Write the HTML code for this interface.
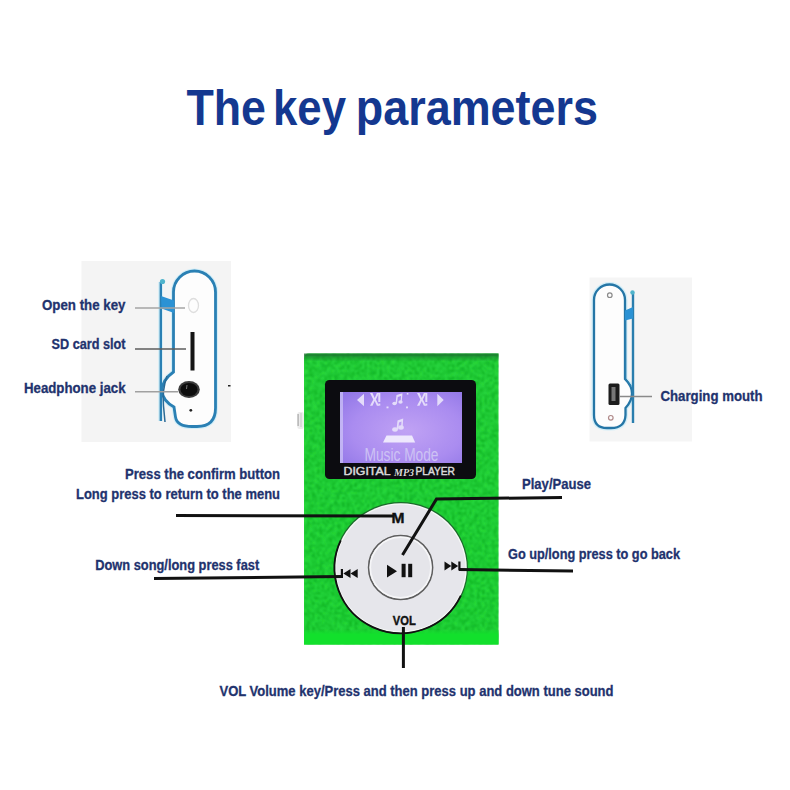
<!DOCTYPE html>
<html><head><meta charset="utf-8">
<style>
html,body{margin:0;padding:0;background:#fff;width:790px;height:790px;overflow:hidden}
svg{display:block}
text{font-family:"Liberation Sans",sans-serif;font-weight:bold}
.lbl{fill:#1f336e;font-size:14.5px;stroke:#1f336e;stroke-width:0.3px}
</style></head><body>
<svg width="790" height="790" viewBox="0 0 790 790">
<defs>
<radialGradient id="lcd" cx="0.55" cy="0.55" r="0.75">
<stop offset="0" stop-color="#c0a2f4"/>
<stop offset="0.6" stop-color="#aa8cf0"/>
<stop offset="1" stop-color="#9076e6"/>
</radialGradient>
<linearGradient id="grn" x1="0" y1="0" x2="0" y2="1">
<stop offset="0" stop-color="#2ede42"/>
<stop offset="1" stop-color="#28e03e"/>
</linearGradient>
<linearGradient id="topsh" x1="0" y1="0" x2="0" y2="1">
<stop offset="0" stop-color="#1a6a30" stop-opacity="0.5"/>
<stop offset="1" stop-color="#1a6a30" stop-opacity="0"/>
</linearGradient>
<filter id="tex" x="0" y="0" width="100%" height="100%">
<feTurbulence type="fractalNoise" baseFrequency="0.4" numOctaves="2" seed="3" result="n"/>
<feColorMatrix in="n" type="matrix" values="0 0 0 0 0  0 0 0 0 0  0 0 0 0 0  -3 0 0 0 1.9" result="a"/>
<feComposite in="SourceGraphic" in2="a" operator="in" result="c"/>
<feGaussianBlur in="c" stdDeviation="0.9"/>
</filter>
<linearGradient id="band" x1="0" y1="0" x2="0" y2="1">
<stop offset="0" stop-color="#14de2e" stop-opacity="0.3"/>
<stop offset="0.3" stop-color="#12e02c"/>
<stop offset="1" stop-color="#12e02c"/>
</linearGradient>
</defs>
<rect width="790" height="790" fill="#fff"/>
<!-- title -->
<g font-size="48" fill="#143890" transform="translate(0 125.2) scale(1 1.045) translate(0 -125.2)">
<text x="186.5" y="125.2" textLength="79.5" lengthAdjust="spacingAndGlyphs">The</text>
<text x="273" y="125.2" textLength="73" lengthAdjust="spacingAndGlyphs">key</text>
<text x="355.8" y="125.2" textLength="242.2" lengthAdjust="spacingAndGlyphs">parameters</text>
</g>

<!-- left panel -->
<rect x="81.5" y="261" width="149.5" height="181" fill="#f4f4f4"/>
<g id="leftdev">
<path d="M173.5 292 A21 21 0 0 1 215.5 292 L215.5 408 Q215.5 426.5 197 426.5 L192 426.5 Q177 426.5 175.5 417 L174 407 Q163 401 161.8 391 Q162 380 173.5 372 Z" fill="#fdfdfd" stroke="#d2eef8" stroke-width="5"/>
<line x1="160.5" y1="282" x2="160.5" y2="421" stroke="#d8eef6" stroke-width="5"/>
<path d="M173.5 292 A21 21 0 0 1 215.5 292 L215.5 408 Q215.5 426.5 197 426.5 L192 426.5 Q177 426.5 175.5 417 L174 407 Q163 401 161.8 391 Q162 380 173.5 372 Z" fill="#fdfdfd" stroke="#2a80b4" stroke-width="2.8"/>
<line x1="160.8" y1="282" x2="160.8" y2="421" stroke="#2a80b4" stroke-width="2.4"/>
<path d="M167 376 Q162 390 163.5 406 L165 422" fill="none" stroke="#2a6a96" stroke-width="1.5"/>
<circle cx="162.5" cy="281.5" r="2.6" fill="#4fb4cc"/>
<path d="M161 296 L174 300.5 L174 313 L161.5 308.5 Z" fill="#2b92d4"/>
<ellipse cx="193.5" cy="305.5" rx="5" ry="7" fill="none" stroke="#dedede" stroke-width="1.3"/>
<rect x="190.5" y="332" width="4" height="38.5" fill="#151515"/>
<ellipse cx="189" cy="389.5" rx="10.8" ry="8.4" fill="#3c3c3c"/><ellipse cx="189" cy="389.5" rx="8.5" ry="6.6" fill="#0e0e0e"/><path d="M187 385 L186.5 389" stroke="#777" stroke-width="1"/>
<circle cx="190.8" cy="410.3" r="1.4" fill="#222"/>
<rect x="228" y="385" width="2.5" height="1.5" fill="#222"/>
</g>
<g stroke-width="1.5">
<line x1="135" y1="308" x2="185" y2="308" stroke="#a4a4a4"/>
<line x1="135" y1="349" x2="186" y2="349" stroke="#5c5c5c"/>
<line x1="135" y1="391.8" x2="178" y2="391.8" stroke="#a0a0a0"/>
</g>

<!-- right panel -->
<rect x="589.5" y="277.5" width="102.5" height="164" fill="#f5f5f5"/>
<g id="rightdev">
<path d="M594 300 A15.5 15.5 0 0 1 625 300 L625 379 Q632 386 632 393.5 Q632 401 625.5 408 L625.5 415 Q625 428 611 428 L607 428 Q594 428 594 415 Z" fill="#fdfdfd" stroke="#d2eef8" stroke-width="5"/>
<path d="M594 300 A15.5 15.5 0 0 1 625 300 L625 379 Q632 386 632 393.5 Q632 401 625.5 408 L625.5 415 Q625 428 611 428 L607 428 Q594 428 594 415 Z" fill="#fdfdfd" stroke="#2576a6" stroke-width="2.3"/>
<line x1="633" y1="293" x2="633" y2="423" stroke="#2a7eae" stroke-width="2.4"/>
<path d="M625.5 320 L625.5 379 L631 386" fill="none" stroke="#2a7eae" stroke-width="1.6"/>
<circle cx="632.5" cy="292.5" r="2.2" fill="#4fb4cc"/>
<path d="M633 307 L625 310.5 L625 320.5 L633 318.5 Z" fill="#2b92d4"/>
<circle cx="609.8" cy="295.2" r="2.3" fill="none" stroke="#8a8a8a" stroke-width="1.2"/>
<circle cx="610.8" cy="417.8" r="2.3" fill="none" stroke="#b08a8a" stroke-width="1.2"/>
<rect x="608.5" y="383.5" width="11" height="21.5" rx="1.5" fill="#1c1c1c"/>
<rect x="611.5" y="387" width="4" height="14" fill="#777"/>
</g>
<line x1="619" y1="396.5" x2="652" y2="396.5" stroke="#8a8a8a" stroke-width="1.4"/>

<!-- green body -->
<path d="M304 644.5 L304 358.5 Q304 353.5 309 353.5 L498.5 353.5 L498.5 644.5 Z" fill="url(#grn)"/>
<path d="M304 644.5 L304 358.5 Q304 353.5 309 353.5 L498.5 353.5 L498.5 644.5 Z" fill="#009c18" filter="url(#tex)" opacity="0.75"/>
<rect x="304" y="630" width="194.5" height="14.5" fill="url(#band)"/>
<rect x="304" y="353.5" width="194.5" height="3" fill="#1c6e30" opacity="0.75"/><rect x="304" y="356.5" width="194.5" height="5" fill="url(#topsh)"/>
<!-- side button -->
<rect x="297.3" y="412" width="6.5" height="17" rx="2" fill="#ececec"/>
<rect x="297.5" y="414" width="1.2" height="12" fill="#a8a8a8"/>
<rect x="300.5" y="413" width="1" height="14" fill="#c8c8c8"/>
<!-- screen frame -->
<rect x="325" y="380" width="151" height="99" rx="4.5" fill="#0c0c10"/>
<rect x="340" y="392" width="122" height="71" fill="url(#lcd)"/>
<rect x="340" y="392" width="3" height="71" fill="#d8d4fa" opacity="0.6"/>
<g fill="#e4dcfa">
<path d="M364 393.8 L357 400 L364 406.3 Z"/>
<path d="M437.3 393.8 L443.7 400 L437.3 406.3 Z"/>
<!-- X! icons -->
<path d="M370 393 h2.5 l2.2 5 l2.2 -5 h2.2 l-3.2 6.5 l3.2 6.2 h-2.2 l-2.2 -4.8 l-2.2 4.8 h-2.5 l3.3 -6.2 Z"/>
<rect x="378.3" y="393" width="2" height="9"/><rect x="378.3" y="403.6" width="2" height="2"/>
<path d="M417 393 h2.5 l2.2 5 l2.2 -5 h2.2 l-3.2 6.5 l3.2 6.2 h-2.2 l-2.2 -4.8 l-2.2 4.8 h-2.5 l3.3 -6.2 Z"/>
<rect x="425.3" y="393" width="2" height="9"/><rect x="425.3" y="403.6" width="2" height="2"/>
<rect x="386.5" y="406.5" width="2" height="1.8"/>
<rect x="406" y="406.5" width="2" height="1.8"/>
<rect x="406.8" y="393" width="1.6" height="1.6"/>
<!-- small note top -->
<ellipse cx="394.5" cy="403.5" rx="2.2" ry="1.8"/><ellipse cx="400.5" cy="402" rx="2.2" ry="1.8"/>
<path d="M395.5 403.5 L396.5 395 L402.5 393.3 L401.7 402 L400.5 402 L401 396 L397.8 397 L397 403.5 Z"/>
<!-- big note -->
<ellipse cx="395" cy="429.5" rx="2.8" ry="2.2"/><ellipse cx="401" cy="427.5" rx="2.8" ry="2.2"/>
<path d="M396.5 429.5 L397.5 420.5 L403.2 418.4 L402.6 427.5 L401 427.5 L401.5 421.5 L399 422.5 L398.3 429.5 Z"/>
<!-- platform -->
<path d="M386.5 435.5 L412 435.5 L415.2 442.4 L383 442.4 Z" fill="#eee8fd"/>
</g>
<text x="364.5" y="461" font-size="18" fill="#cdc2f4" style="font-weight:normal" textLength="74" lengthAdjust="spacingAndGlyphs">Music Mode</text>
<g fill="#dadada" stroke="#dadada" stroke-width="0.45">
<text x="343.5" y="475" font-size="10.5" style="font-weight:normal" textLength="47" lengthAdjust="spacingAndGlyphs">DIGITAL</text>
<text x="394" y="475.5" font-size="11" style="font-weight:bold;font-style:italic;font-family:'Liberation Serif',serif" stroke-width="0" textLength="20" lengthAdjust="spacingAndGlyphs">MP3</text>
<text x="415.5" y="475" font-size="10.5" style="font-weight:normal" textLength="39.5" lengthAdjust="spacingAndGlyphs">PLAYER</text>
</g>

<!-- wheel -->
<ellipse cx="400.8" cy="568" rx="67.2" ry="66" fill="#1c6a2c"/>
<ellipse cx="400.8" cy="568" rx="66" ry="64.8" fill="#f6f8f6"/>
<path d="M340.8 540.45 A66.2 65.2 0 0 0 460.8 595.55" fill="none" stroke="#111" stroke-width="1.8"/>
<ellipse cx="400.8" cy="568" rx="64.6" ry="63.4" fill="#e6e6eb"/>
<circle cx="400.6" cy="567.5" r="32" fill="#e5e5ea" stroke="#5e5e5e" stroke-width="1.6"/>
<circle cx="400.6" cy="567.5" r="30.3" fill="none" stroke="#f6f6f8" stroke-width="1.6"/>
<!-- play pause -->
<path d="M387 564.7 L397 571.2 L387 577.6 Z" fill="#111"/>
<rect x="401.6" y="563.8" width="4" height="13.4" fill="#111"/>
<rect x="408.2" y="563.8" width="4" height="13.4" fill="#111"/>
<text x="391.5" y="523" font-size="14.5" fill="#111" stroke="#111" stroke-width="0.4" textLength="13" lengthAdjust="spacingAndGlyphs">M</text>
<text x="392.8" y="624.5" font-size="12.8" fill="#111" stroke="#111" stroke-width="0.4" textLength="23" lengthAdjust="spacingAndGlyphs">VOL</text>
<!-- prev -->
<g fill="#111">
<rect x="340.8" y="569" width="2.2" height="9"/>
<path d="M350.5 569 L343.3 573.5 L350.5 578 Z"/>
<path d="M357.7 569 L350.5 573.5 L357.7 578 Z"/>
<path d="M444.5 561.5 L451.3 566 L444.5 570.5 Z"/>
<path d="M451.3 561.5 L458.2 566 L451.3 570.5 Z"/>
<rect x="458.3" y="561.5" width="2.2" height="9"/>
</g>

<!-- lines -->
<g stroke="#111" stroke-width="3" fill="none">
<path d="M176 515.5 L393 516"/>
<path d="M154 578.5 L342 576.5"/>
<path d="M402.5 555 L436.5 499 L562 497.5"/>
<path d="M459 569.5 L573 571"/>
<path d="M403.4 627 L403.4 668"/>
</g>

<!-- labels -->
<text class="lbl" x="42" y="310.3" textLength="83.5" lengthAdjust="spacingAndGlyphs">Open the key</text>
<text class="lbl" x="51.5" y="349.4" textLength="74" lengthAdjust="spacingAndGlyphs">SD card slot</text>
<text class="lbl" x="24" y="393.4" textLength="101.5" lengthAdjust="spacingAndGlyphs">Headphone jack</text>
<text class="lbl" x="660.5" y="401.2" textLength="102" lengthAdjust="spacingAndGlyphs">Charging mouth</text>
<text class="lbl" x="125" y="479" textLength="155" lengthAdjust="spacingAndGlyphs">Press the confirm button</text>
<text class="lbl" x="76" y="499.3" textLength="204" lengthAdjust="spacingAndGlyphs">Long press to return to the menu</text>
<text class="lbl" x="95.2" y="570.2" textLength="164" lengthAdjust="spacingAndGlyphs">Down song/long press fast</text>
<text class="lbl" x="522" y="489.4" textLength="69" lengthAdjust="spacingAndGlyphs">Play/Pause</text>
<text class="lbl" x="508" y="559.3" textLength="172" lengthAdjust="spacingAndGlyphs">Go up/long press to go back</text>
<text class="lbl" x="219.5" y="696" textLength="394" lengthAdjust="spacingAndGlyphs">VOL Volume key/Press and then press up and down tune sound</text>
</svg>
</body></html>
